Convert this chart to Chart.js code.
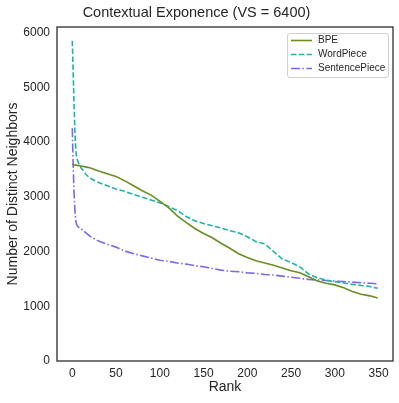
<!DOCTYPE html>
<html>
<head>
<meta charset="utf-8">
<script src="https://cdn.jsdelivr.net/npm/chart.js@4.4.0/dist/chart.umd.min.js"></script>
<style>
  html, body { margin: 0; padding: 0; background: #fff; }
  #wrap { width: 399px; height: 403px; }
</style>
</head>
<body>
<div id="wrap"><canvas id="rankChart" width="399" height="403"></canvas></div>
<script>
var ranks = [0,1,2,3,4,5,6,8,10,15,20,30,40,50,60,70,80,90,100,110,120,130,140,150,160,170,180,190,200,210,220,230,240,250,260,270,280,290,300,310,320,330,340,349]
var bpe = [3600,3590,3585,3580,3578,3575,3572,3568,3560,3545,3530,3470,3420,3370,3290,3200,3110,3030,2920,2800,2650,2530,2420,2330,2250,2150,2060,1960,1890,1830,1790,1750,1700,1650,1610,1540,1460,1420,1390,1340,1270,1220,1190,1150]
var wordPiece = [5850,5300,4700,4200,3850,3720,3660,3590,3530,3420,3340,3260,3200,3140,3100,3040,2990,2940,2890,2820,2750,2640,2560,2510,2470,2430,2380,2340,2270,2180,2140,2000,1860,1800,1720,1590,1520,1475,1450,1425,1400,1380,1360,1330]
var sentencePiece = [4250,3600,3100,2750,2560,2490,2460,2430,2420,2350,2280,2190,2130,2080,2010,1960,1920,1880,1840,1820,1790,1770,1740,1720,1690,1660,1640,1630,1610,1600,1580,1570,1550,1530,1510,1490,1480,1470,1460,1450,1440,1430,1420,1410]
var xTicks = [0,50,100,150,200,250,300,350]
var yTicks = [0,1000,2000,3000,4000,5000,6000]
var seriesNames = ['BPE','WordPiece','SentencePiece']

var FONT = 'Liberation Sans, Arial, sans-serif'
var TEXT = '#262626'

function points(vals){
  return ranks.map((r, i) => ({x: r, y: vals[i]}))
}

// box round the plot + legend inside the top right corner
var framePlugin = {
  id: 'frame',
  afterDraw: function(chart){
    var ctx = chart.ctx
    var a = chart.chartArea
    ctx.save()
    ctx.strokeStyle = '#262626'
    ctx.lineWidth = 1.25
    ctx.strokeRect(a.left, a.top, a.right - a.left, a.bottom - a.top)

    var bx = a.right - 106, by = a.top + 6, bw = 101, bh = 44
    ctx.beginPath()
    ctx.roundRect(bx + 0.5, by + 0.5, bw, bh, 2.5)
    ctx.fillStyle = 'rgba(255,255,255,0.85)'
    ctx.fill()
    ctx.strokeStyle = '#d0d0d0'
    ctx.lineWidth = 1
    ctx.stroke()

    ctx.font = '10px ' + FONT
    ctx.textBaseline = 'middle'
    ctx.textAlign = 'left'
    chart.data.datasets.forEach(function(ds, i){
      var ly = by + 7.5 + i * 14
      ctx.beginPath()
      ctx.setLineDash(ds.borderDash || [])
      ctx.strokeStyle = ds.borderColor
      ctx.lineWidth = ds.borderWidth
      ctx.moveTo(bx + 4, ly)
      ctx.lineTo(bx + 25, ly)
      ctx.stroke()
      ctx.setLineDash([])
      ctx.fillStyle = TEXT
      ctx.fillText(ds.label, bx + 31, ly)
    })
    ctx.restore()
  }
}

var rankChart = new Chart(document.getElementById('rankChart'), {
  type: 'line',
  data: {
    datasets: [{
      label: seriesNames[0],
      data: points(bpe),
      borderColor: '#6b8e23',
      borderWidth: 1.6,
      tension: 0,
      pointRadius: 0
    },{
      label: seriesNames[1],
      data: points(wordPiece),
      borderColor: '#20b2aa',
      borderDash: [5.5, 2.4],
      borderWidth: 1.6,
      tension: 0,
      pointRadius: 0
    },{
      label: seriesNames[2],
      data: points(sentencePiece),
      borderColor: '#7b68ee',
      borderDash: [9, 2.4, 1.5, 2.4],
      borderWidth: 1.6,
      tension: 0,
      pointRadius: 0
    }]
  },
  options: {
    responsive: false,
    animation: false,
    devicePixelRatio: 1,
    layout: { padding: { top: 0, right: 6, bottom: 0, left: 0 } },
    plugins: {
      legend: { display: false },
      tooltip: { enabled: false },
      title: {
        display: true,
        text: 'Contextual Exponence (VS = 6400)',
        color: TEXT,
        font: { family: FONT, size: 14.5, weight: 'normal' },
        padding: { top: 4, bottom: 5.6 }
      }
    },
    scales: {
      x: {
        type: 'linear',
        min: -17.45,
        max: 366.45,
        grid: { display: false, drawTicks: false },
        border: { display: false },
        ticks: {
          color: TEXT, padding: 5, maxRotation: 0,
          font: { family: FONT, size: 12 },
          callback: function(v){ return String(v) }
        },
        afterBuildTicks: function(scale){ scale.ticks = xTicks.map(v => ({value: v})) },
        afterFit: function(scale){ scale.height = 42 },
        title: {
          display: true,
          text: 'Rank',
          color: TEXT,
          font: { family: FONT, size: 14 },
          padding: { top: 0, bottom: 7 }
        }
      },
      y: {
        type: 'linear',
        min: 0,
        max: 6100,
        grid: { display: false, drawTicks: false },
        border: { display: false },
        ticks: {
          color: TEXT, padding: 7,
          font: { family: FONT, size: 12 },
          callback: function(v){ return String(v) }
        },
        afterBuildTicks: function(scale){ scale.ticks = yTicks.map(v => ({value: v})) },
        afterFit: function(scale){ scale.width = 57 },
        title: {
          display: true,
          text: 'Number of Distinct Neighbors',
          color: TEXT,
          font: { family: FONT, size: 14 },
          padding: { top: 4.6, bottom: 0 }
        }
      }
    }
  },
  plugins: [framePlugin]
});
</script>
</body>
</html>
